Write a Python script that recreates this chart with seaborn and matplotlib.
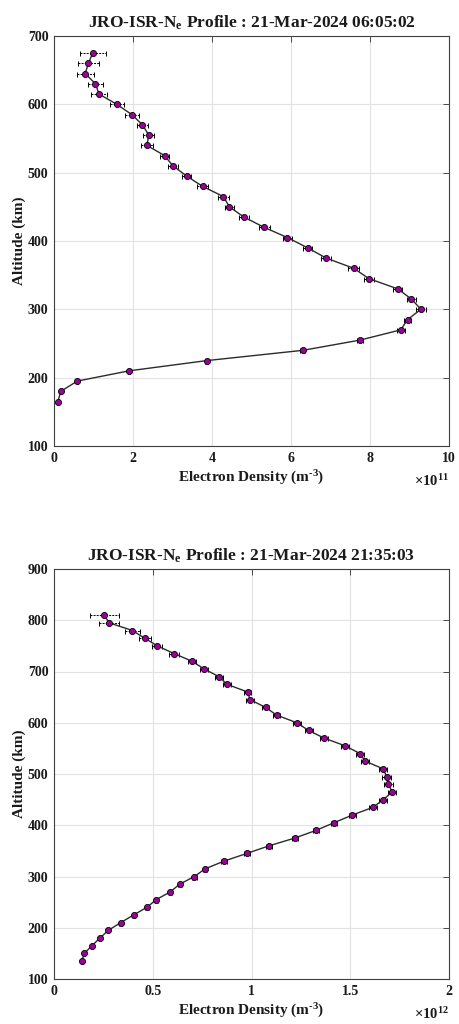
import numpy as np
import pandas as pd
import matplotlib
matplotlib.use("Agg")
import matplotlib.pyplot as plt
import seaborn as sns

# ---------------- data ----------------
title1 = "JRO-ISR-N$_{e}$ Profile : 21-Mar-2024 06:05:02"
alt1 = [165, 180, 195, 210, 225, 240, 255, 270, 285, 300, 315, 330, 345, 360,
        375, 390, 405, 420, 435, 450, 465, 480, 495, 510, 525, 540, 555, 570,
        585, 600, 615, 630, 645, 660, 675]
ne1 = [0.10, 0.17, 0.59, 1.90, 3.87, 6.30, 7.75, 8.78, 8.95, 9.29, 9.05, 8.70,
       7.97, 7.59, 6.89, 6.42, 5.91, 5.32, 4.81, 4.44, 4.29, 3.76, 3.36, 3.01,
       2.80, 2.35, 2.40, 2.24, 1.97, 1.59, 1.14, 1.05, 0.79, 0.87, 0.98]   # x 1e11
err1 = [0.01, 0.01, 0.02, 0.03, 0.04, 0.06, 0.08, 0.10, 0.10, 0.12, 0.12, 0.12,
        0.12, 0.14, 0.12, 0.12, 0.12, 0.14, 0.12, 0.12, 0.13, 0.14, 0.12, 0.12,
        0.12, 0.16, 0.14, 0.13, 0.17, 0.17, 0.20, 0.19, 0.22, 0.27, 0.33]
xticks1 = [0, 2, 4, 6, 8, 10]
yticks1 = [100, 200, 300, 400, 500, 600, 700]
exp1 = "11"

title2 = "JRO-ISR-N$_{e}$ Profile : 21-Mar-2024 21:35:03"
alt2 = [135, 150, 165, 180, 195, 210, 225, 240, 255, 270, 285, 300, 315, 330,
        345, 360, 375, 390, 405, 420, 435, 450, 465, 480, 495, 510, 525, 540,
        555, 570, 585, 600, 615, 630, 645, 660, 675, 690, 705, 720, 735, 750,
        765, 780, 795, 810]
ne2 = [0.140, 0.154, 0.192, 0.233, 0.275, 0.338, 0.403, 0.471, 0.518, 0.589,
       0.636, 0.711, 0.765, 0.861, 0.976, 1.090, 1.219, 1.327, 1.418, 1.511,
       1.615, 1.667, 1.713, 1.693, 1.684, 1.667, 1.576, 1.549, 1.474, 1.368,
       1.289, 1.229, 1.127, 1.071, 0.993, 0.980, 0.876, 0.835, 0.760, 0.699,
       0.608, 0.523, 0.459, 0.397, 0.279, 0.255]   # x 1e12
err2 = [0.005, 0.005, 0.005, 0.006, 0.006, 0.007, 0.007, 0.008, 0.008, 0.009,
        0.010, 0.011, 0.012, 0.013, 0.014, 0.015, 0.015, 0.016, 0.017, 0.018,
        0.019, 0.020, 0.021, 0.021, 0.021, 0.021, 0.020, 0.020, 0.020, 0.020,
        0.020, 0.020, 0.019, 0.019, 0.019, 0.019, 0.020, 0.020, 0.021, 0.022,
        0.024, 0.026, 0.030, 0.036, 0.050, 0.073]
xticks2 = [0, 0.5, 1, 1.5, 2]
yticks2 = [100, 200, 300, 400, 500, 600, 700, 800, 900]
exp2 = "12"

xlabel = r"Electron Density (m$^{\text{-3}}$)"
ylabel = "Altitude (km)"

# ---------------- style ----------------
sns.set_style("white")
plt.rcParams["font.family"] = ["Liberation Serif", "DejaVu Serif"]
plt.rcParams["font.weight"] = "bold"
plt.rcParams["axes.titleweight"] = "bold"
plt.rcParams["axes.labelweight"] = "bold"
plt.rcParams["mathtext.fontset"] = "custom"
plt.rcParams["mathtext.rm"] = "Liberation Serif:bold"
plt.rcParams["mathtext.it"] = "Liberation Serif:bold"
plt.rcParams["mathtext.bf"] = "Liberation Serif:bold"
plt.rcParams["mathtext.default"] = "rm"

TXT = "#1a1a1a"
MARK = "#9b009b"

fig = plt.figure(figsize=(4.59, 10.24), dpi=100)
W, H = 459, 1024
ax1 = fig.add_axes([54 / W, (H - 446) / H, 395 / W, 410 / H])
ax2 = fig.add_axes([54 / W, (H - 979) / H, 395 / W, 410 / H])


def panel(ax, ne, alt, err, xticks, yticks, title, exp):
    df = pd.DataFrame({"ne": ne, "alt": alt})
    eb = ax.errorbar(df["ne"], df["alt"], xerr=err, fmt="none", ecolor="black",
                     elinewidth=0.7, capsize=1.8, capthick=0.7, zorder=3)
    eb[2][0].set_linestyle((0, (2.0, 1.2)))
    sns.lineplot(data=df, x="ne", y="alt", sort=False, estimator=None, ax=ax,
                 color="#2b2b2b", linewidth=1.0, marker="o", markersize=4.4,
                 markerfacecolor=MARK, markeredgecolor="black",
                 markeredgewidth=0.6, zorder=4)
    ax.set_xlim(xticks[0], xticks[-1])
    ax.set_ylim(yticks[0], yticks[-1])
    ax.set_xticks(xticks)
    ax.set_yticks(yticks)
    ax.set_xticklabels([f"{t:g}" for t in xticks])
    ax.set_yticklabels([f"{t:g}" for t in yticks])
    ax.grid(True, color="#e2e2e2", linewidth=0.8)
    ax.set_axisbelow(True)
    ax.tick_params(direction="in", length=4, width=0.6, top=True, right=True,
                   labelsize=10, pad=4, colors="#333333", labelcolor=TXT)
    for s in ax.spines.values():
        s.set_color("#404040")
        s.set_linewidth(0.8)
    ax.set_title(title, fontsize=12.5, pad=6, color=TXT)
    ax.set_xlabel(xlabel, fontsize=11, labelpad=3, color=TXT)
    ax.set_ylabel(ylabel, fontsize=11, labelpad=1, color=TXT)
    ax.text(1.0, -0.097, "×10$^{" + exp + "}$", transform=ax.transAxes,
            ha="right", va="baseline", fontsize=10.5, color=TXT)


panel(ax1, ne1, alt1, err1, xticks1, yticks1, title1, exp1)
panel(ax2, ne2, alt2, err2, xticks2, yticks2, title2, exp2)

fig.savefig("out.png", dpi=100)
